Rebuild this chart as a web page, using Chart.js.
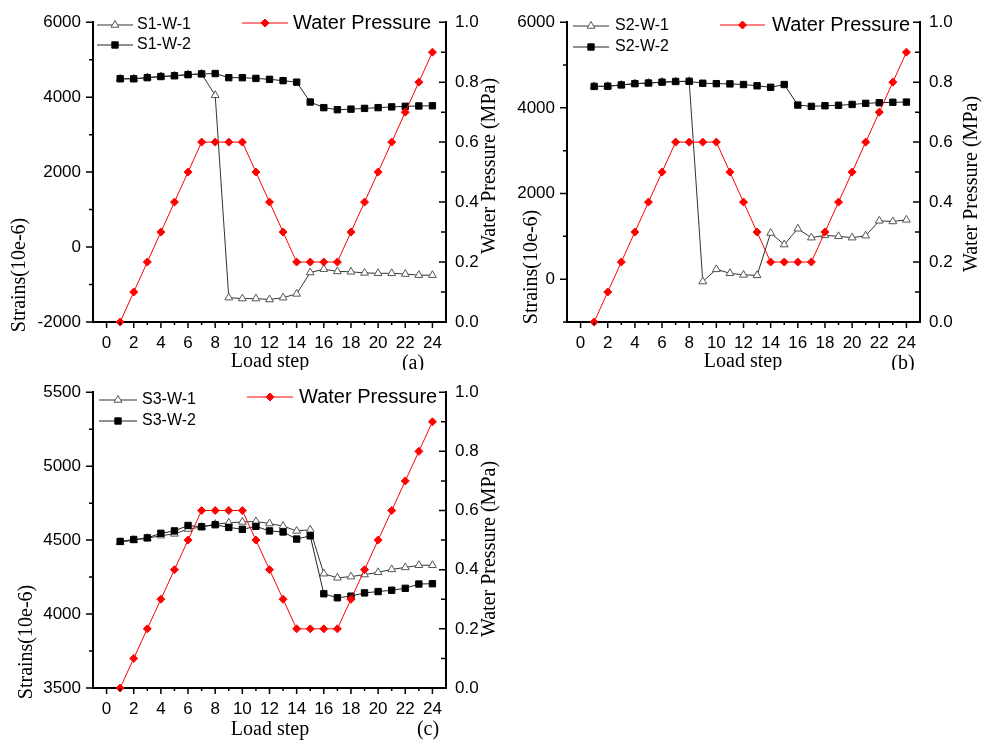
<!DOCTYPE html>
<html>
<head>
<meta charset="utf-8">
<title>Strains and water pressure vs load step</title>
<script src="https://cdn.jsdelivr.net/npm/chart.js@4.4.0/dist/chart.umd.min.js"></script>
<style>
  body { margin: 0; background: #fff; }
  #wrap { position: relative; width: 982px; height: 740px; overflow: hidden; background: #fff; }
  canvas { position: absolute; }
</style>
</head>
<body>
<div id="wrap">
  <canvas id="chartA" width="500" height="370" style="left:0px;top:0px"></canvas>
  <canvas id="chartB" width="507" height="370" style="left:475px;top:0px"></canvas>
  <canvas id="chartC" width="500" height="370" style="left:0px;top:370px"></canvas>
</div>
<script>
"use strict"

// == values
const steps = [1, 2, 3, 4, 5, 6, 7, 8, 9, 10, 11, 12, 13, 14, 15, 16, 17, 18, 19, 20, 21, 22, 23, 24]
const pressure = [0, 0.1, 0.2, 0.3, 0.4, 0.5, 0.6, 0.6, 0.6, 0.6, 0.5, 0.4, 0.3, 0.2, 0.2, 0.2, 0.2, 0.3, 0.4, 0.5, 0.6, 0.7, 0.8, 0.9]

const s1w1 = [4490, 4490, 4520, 4550, 4570, 4600, 4620, 4050, -1350, -1375, -1375, -1400, -1350, -1250, -680, -590, -650, -660, -690, -700, -700, -720, -750, -750]
const s1w2 = [4490, 4490, 4520, 4550, 4570, 4600, 4620, 4630, 4520, 4520, 4500, 4475, 4440, 4400, 3870, 3720, 3665, 3680, 3700, 3720, 3740, 3755, 3765, 3770]

const s2w1 = [4500, 4505, 4535, 4565, 4580, 4600, 4615, 4620, -55, 230, 137, 100, 90, 1077, 808, 1177, 969, 1023, 1000, 969, 1015, 1362, 1347, 1385]
const s2w2 = [4500, 4505, 4535, 4565, 4580, 4600, 4615, 4620, 4575, 4565, 4560, 4545, 4515, 4480, 4545, 4065, 4035, 4050, 4060, 4080, 4105, 4120, 4130, 4135]

const s3w1 = [4485, 4500, 4513, 4530, 4542, 4575, 4588, 4608, 4617, 4623, 4626, 4612, 4595, 4562, 4570, 4273, 4245, 4253, 4267, 4282, 4302, 4315, 4330, 4330]
const s3w2 = [4491, 4504, 4515, 4546, 4562, 4599, 4590, 4604, 4586, 4573, 4593, 4562, 4555, 4507, 4529, 4137, 4110, 4121, 4143, 4152, 4161, 4174, 4203, 4205]

const xTicks = [0, 2, 4, 6, 8, 10, 12, 14, 16, 18, 20, 22, 24]
const pressureTicks = [0, 0.2, 0.4, 0.6, 0.8, 1.0]

const SANS = '"Liberation Sans", Arial, sans-serif'
const SERIF = '"Liberation Serif", "Times New Roman", serif'
const RED = '#ff0000'


function toPoints(ys) {
    return steps.map((s, i) => ({x: s, y: ys[i]}))
}


// draws ticks (major + minor), axis titles, legend and panel tag
const panelDeco = {
    id: 'panelDeco',
    afterDraw(chart, args, p) {
        const ctx = chart.ctx
        const a = chart.chartArea
        const sx = chart.scales.x, sy = chart.scales.y, sr = chart.scales.y1
        ctx.save()
        ctx.strokeStyle = '#000'
        ctx.lineWidth = 1.5
        ctx.beginPath()
        // x axis ticks point down
        for (let v = 0; v <= 24; v++) {
            const px = sx.getPixelForValue(v)
            const len = v % 2 == 0 ? 6 : 3
            ctx.moveTo(px, a.bottom)
            ctx.lineTo(px, a.bottom + len)
        }
        // left axis ticks point left (outward)
        for (let v = p.yMin; v <= p.yMax; v += p.yMinor) {
            const py = sy.getPixelForValue(v)
            const len = v % p.yMajor == 0 ? 7 : 4
            ctx.moveTo(a.left, py)
            ctx.lineTo(a.left - len, py)
        }
        // right axis ticks point left (inward)
        for (let i = 0; i <= 10; i++) {
            const py = sr.getPixelForValue(i / 10)
            const len = i % 2 == 0 ? 7 : 5
            ctx.moveTo(a.right, py)
            ctx.lineTo(a.right - len, py)
        }
        ctx.stroke()

        // axis titles
        ctx.fillStyle = '#000'
        ctx.font = '20px ' + SERIF
        ctx.textAlign = 'center'
        ctx.textBaseline = 'middle'
        rotatedText(ctx, 'Strains(10e-6)', p.yTitle[0], p.yTitle[1])
        rotatedText(ctx, 'Water Pressure (MPa)', p.rTitle[0], p.rTitle[1])
        ctx.fillText('Load step', p.xTitle[0], p.xTitle[1])
        ctx.fillText(p.tag[0], p.tag[1], p.tag[2])

        // legend
        const ds = chart.data.datasets
        const lg = p.legend
        legendRow(ctx, ds[2], lg.x0, lg.x1, lg.y1, lg.tx, '16px ' + SANS)
        legendRow(ctx, ds[1], lg.x0, lg.x1, lg.y2, lg.tx, '16px ' + SANS)
        legendRow(ctx, ds[0], lg.wx0, lg.wx1, lg.wy, lg.wtx, '20px ' + SANS)
        ctx.restore()
    }
}


function rotatedText(ctx, text, x, y) {
    ctx.save()
    ctx.translate(x, y)
    ctx.rotate(-Math.PI / 2)
    ctx.fillText(text, 0, 0)
    ctx.restore()
}


function legendRow(ctx, ds, x0, x1, y, tx, font) {
    ctx.save()
    ctx.strokeStyle = ds.borderColor
    ctx.lineWidth = 1
    ctx.beginPath()
    ctx.moveTo(x0, y)
    ctx.lineTo(x1, y)
    ctx.stroke()
    ctx.fillStyle = ds.pointBackgroundColor
    ctx.strokeStyle = ds.pointBorderColor
    ctx.lineWidth = ds.pointBorderWidth
    Chart.helpers.drawPoint(ctx, {
        pointStyle: ds.pointStyle,
        radius: ds.pointRadius,
        borderWidth: ds.pointBorderWidth,
        rotation: 0
    }, (x0 + x1) / 2, y)
    ctx.fillStyle = '#000'
    ctx.font = font
    ctx.textAlign = 'left'
    ctx.textBaseline = 'middle'
    ctx.fillText(ds.label, tx, y)
    ctx.restore()
}


function CreatePanel(id, p) {
    const canvas = document.getElementById(id)
    const area = p.area
    const tickFont = {family: SANS, size: 17}

    const leftTicks = []
    for (let v = Math.ceil(p.yMin / p.yMajor) * p.yMajor; v <= p.yMax; v += p.yMajor) leftTicks.push(v)

    return new Chart(canvas.getContext('2d'), {
        type: 'line',
        data: {
            datasets: [
                {
                    label: 'Water Pressure',
                    data: toPoints(pressure),
                    yAxisID: 'y1',
                    borderColor: RED,
                    borderWidth: 1,
                    pointStyle: 'rectRot',
                    pointRadius: 4,
                    pointBackgroundColor: RED,
                    pointBorderColor: RED,
                    pointBorderWidth: 1,
                    clip: false
                },
                {
                    label: p.names[1],
                    data: toPoints(p.w2),
                    yAxisID: 'y',
                    borderColor: '#222',
                    borderWidth: 1,
                    pointStyle: 'rect',
                    pointRadius: 4.5,
                    pointBackgroundColor: '#000',
                    pointBorderColor: '#000',
                    pointBorderWidth: 1,
                    clip: false
                },
                {
                    label: p.names[0],
                    data: toPoints(p.w1),
                    yAxisID: 'y',
                    borderColor: '#333',
                    borderWidth: 1,
                    pointStyle: 'triangle',
                    pointRadius: 4.5,
                    pointBackgroundColor: '#fff',
                    pointBorderColor: '#555',
                    pointBorderWidth: 1,
                    clip: false
                }
            ]
        },
        options: {
            responsive: false,
            animation: false,
            devicePixelRatio: 1,
            elements: {line: {tension: 0}},
            layout: {padding: {top: area.t, left: 0, right: 0, bottom: 0}},
            plugins: {
                legend: {display: false},
                tooltip: {enabled: false},
                panelDeco: p
            },
            scales: {
                x: {
                    type: 'linear',
                    min: -1,
                    max: 25,
                    afterBuildTicks: s => { s.ticks = xTicks.map(v => ({value: v})) },
                    afterFit: s => { s.height = canvas.height - area.b },
                    grid: {drawOnChartArea: false, drawTicks: false},
                    border: {color: '#000', width: 2},
                    ticks: {color: '#000', font: tickFont, padding: 11, autoSkip: false, maxRotation: 0}
                },
                y: {
                    type: 'linear',
                    position: 'left',
                    min: p.yMin,
                    max: p.yMax,
                    afterBuildTicks: s => { s.ticks = leftTicks.map(v => ({value: v})) },
                    afterFit: s => { s.width = area.l },
                    grid: {drawOnChartArea: false, drawTicks: false},
                    border: {color: '#000', width: 2},
                    ticks: {color: '#000', font: tickFont, padding: 12, callback: v => String(v)}
                },
                y1: {
                    type: 'linear',
                    position: 'right',
                    min: 0,
                    max: 1,
                    afterBuildTicks: s => { s.ticks = pressureTicks.map(v => ({value: v})) },
                    afterFit: s => { s.width = canvas.width - area.r },
                    grid: {drawOnChartArea: false, drawTicks: false},
                    border: {color: '#000', width: 2},
                    ticks: {color: '#000', font: tickFont, padding: 9, callback: v => v.toFixed(1)}
                }
            }
        },
        plugins: [panelDeco]
    })
}


CreatePanel('chartA', {
    area: {t: 19, b: 322, l: 93, r: 446},
    yMin: -2000, yMax: 6000, yMajor: 2000, yMinor: 1000,
    names: ['S1-W-1', 'S1-W-2'], w1: s1w1, w2: s1w2,
    yTitle: [20, 275], rTitle: [490, 166], xTitle: [270, 362], tag: ['(a)', 413, 364],
    legend: {x0: 97, x1: 133, y1: 25, y2: 45, tx: 137, wx0: 242, wx1: 288, wy: 23, wtx: 293}
})

CreatePanel('chartB', {
    area: {t: 19, b: 322, l: 92, r: 445},
    yMin: -1000, yMax: 6000, yMajor: 2000, yMinor: 1000,
    names: ['S2-W-1', 'S2-W-2'], w1: s2w1, w2: s2w2,
    yTitle: [57, 267], rTitle: [497, 184], xTitle: [268, 362], tag: ['(b)', 428, 364],
    legend: {x0: 98, x1: 134, y1: 26, y2: 47, tx: 140, wx0: 245, wx1: 290, wy: 25, wtx: 297}
})

CreatePanel('chartC', {
    area: {t: 16, b: 318, l: 93, r: 446},
    yMin: 3500, yMax: 5500, yMajor: 500, yMinor: 250,
    names: ['S3-W-1', 'S3-W-2'], w1: s3w1, w2: s3w2,
    yTitle: [27, 272], rTitle: [490, 179], xTitle: [270, 360], tag: ['(c)', 428, 360],
    legend: {x0: 99, x1: 137, y1: 30, y2: 51, tx: 142, wx0: 247, wx1: 293, wy: 27, wtx: 299}
})
</script>
</body>
</html>
